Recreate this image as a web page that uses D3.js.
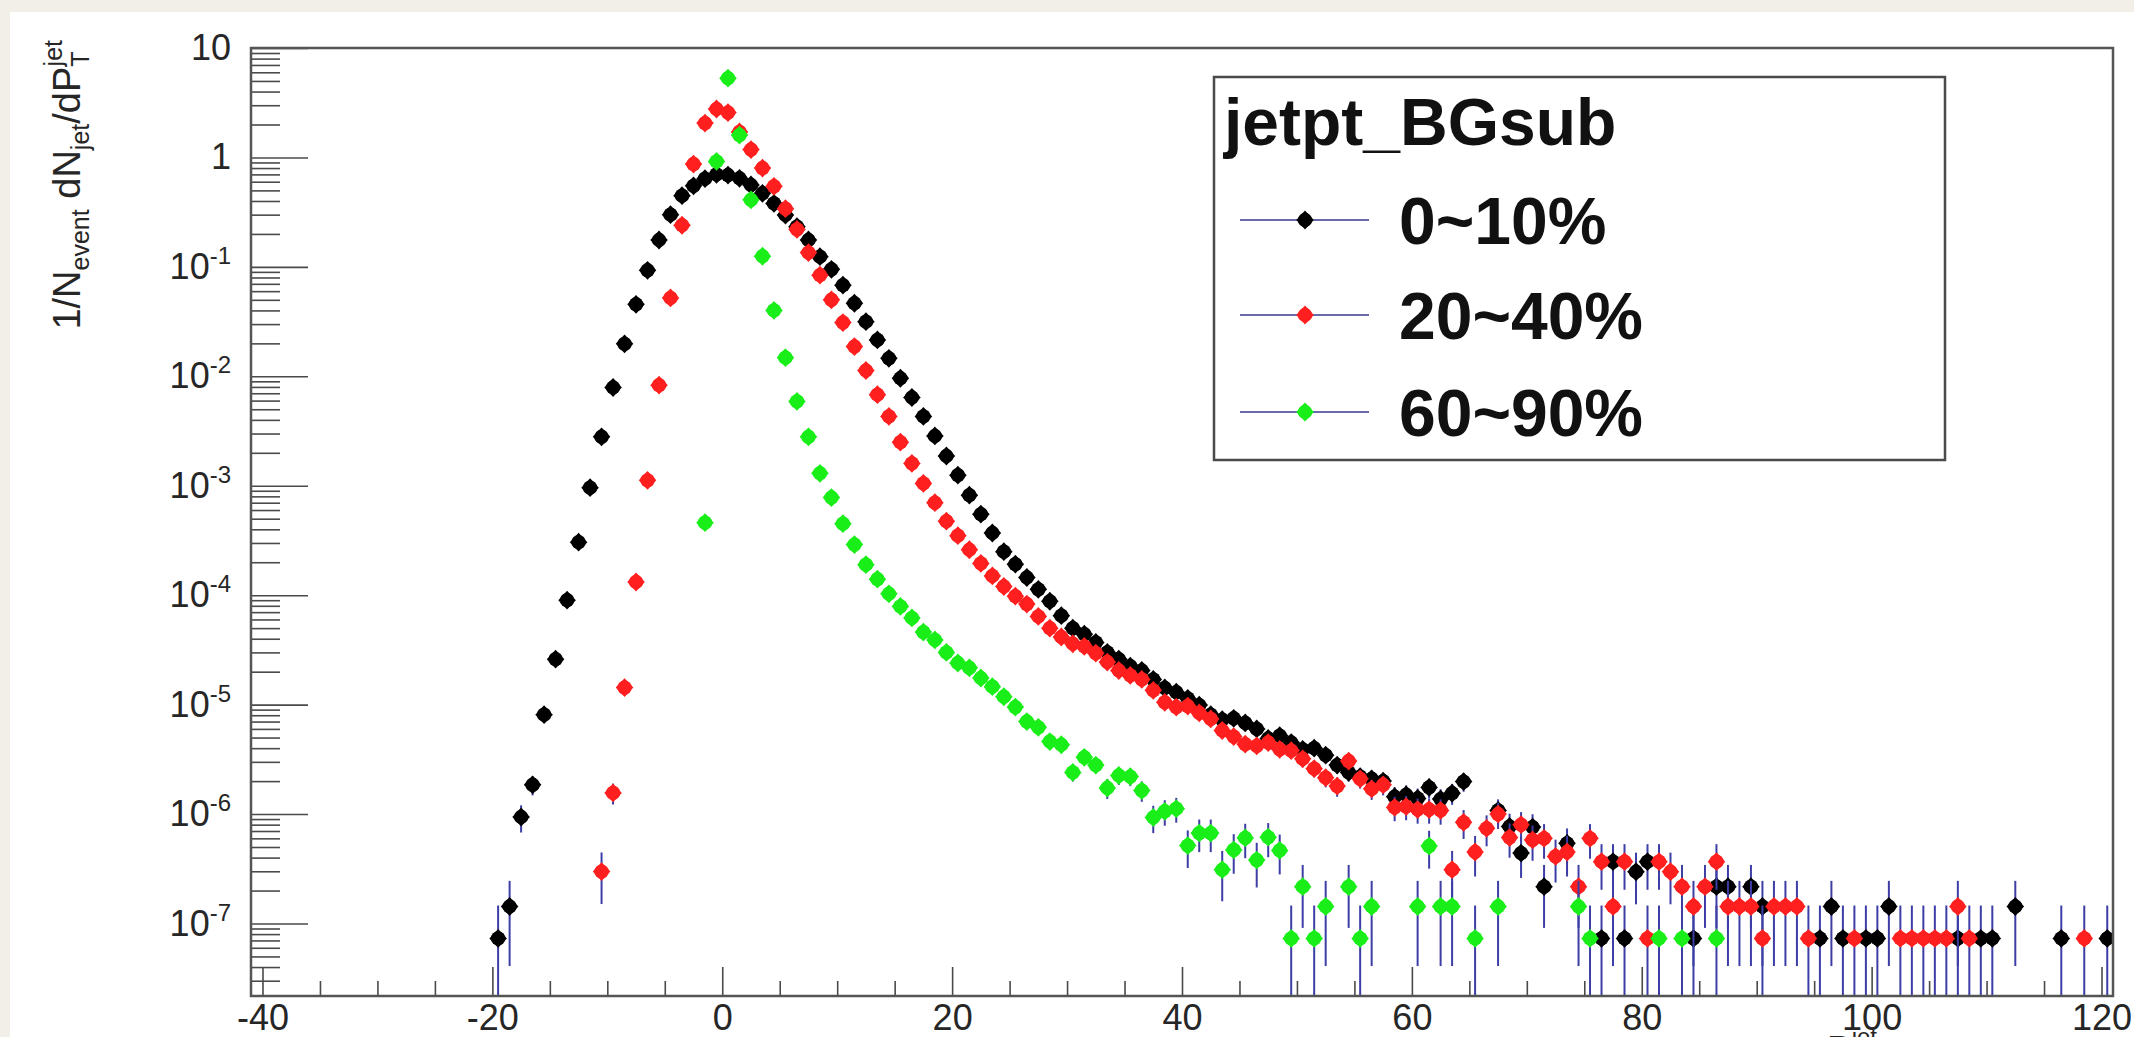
<!DOCTYPE html>
<html>
<head>
<meta charset="utf-8">
<script src="https://cdn.jsdelivr.net/npm/d3@7"></script>
<style>
  html, body { margin: 0; padding: 0; background: #f2efe9; }
  svg { display: block; }
  text { font-family: "Liberation Sans", Arial, Helvetica, sans-serif; }
</style>
</head>
<body>
<svg id="chart" width="2134" height="1037"></svg>
<script>
// ---- axis ranges and ticks ----
const X_RANGE = [-41, 121];
const Y_RANGE = [2.175e-8, 10];
const X_MAJOR_TICKS = [-40, -20, 0, 20, 40, 60, 80, 100, 120];
const Y_DECADES = [1e-7, 1e-6, 1e-5, 1e-4, 1e-3, 1e-2, 1e-1, 1, 10];

// value carried by a single entry (sets the Poisson error bars)
const COUNT_UNIT = 7.3e-8;

// ---- series: one value per 1-unit bin, starting at the given bin centre ----
const SERIES_NAMES = ["0~10%", "20~40%", "60~90%"];
const SERIES_COLORS = ["#000000", "#ff1f1f", "#19ee19"];

const central_0_10_start = -19.5;
const central_0_10 = [
  7.3e-8, 1.43e-7, 9.4e-7, 1.85e-6, 8.1e-6, 2.6e-5, 9.0e-5, 3.05e-4, 9.6e-4, 2.8e-3,
  7.9e-3, 1.98e-2, 4.55e-2, 9.3e-2, 0.176, 0.30, 0.447, 0.55, 0.64, 0.70,
  0.69, 0.645, 0.56, 0.47, 0.38, 0.298, 0.233, 0.176, 0.124, 0.095,
  0.068, 0.0465, 0.0316, 0.0215, 0.0146, 0.0096, 0.0064, 0.0043, 0.00285, 0.00187,
  0.00125, 8.2e-4, 5.5e-4, 3.7e-4, 2.5e-4, 1.92e-4, 1.45e-4, 1.13e-4, 8.8e-5, 6.5e-5,
  5.0e-5, 4.4e-5, 3.7e-5, 3.0e-5, 2.6e-5, 2.25e-5, 2.05e-5, 1.7e-5, 1.42e-5, 1.3e-5,
  1.14e-5, 9.9e-6, 8.1e-6, 7.3e-6, 7.5e-6, 6.8e-6, 6.0e-6, 4.9e-6, 5.2e-6, 4.5e-6,
  3.9e-6, 4.0e-6, 3.45e-6, 2.8e-6, 2.4e-6, 2.2e-6, 2.1e-6, 2.0e-6, 1.44e-6, 1.5e-6,
  1.39e-6, 1.75e-6, 1.37e-6, 1.55e-6, 1.98e-6, null, null, 1.08e-6, 7.7e-7, 4.4e-7,
  7.6e-7, 2.17e-7, null, 5.4e-7, null, null, 7.3e-8, 3.67e-7, 7.3e-8, 2.97e-7,
  3.67e-7, null, null, null, 7.3e-8, null, 2.17e-7, 2.17e-7, null, 2.17e-7,
  1.43e-7, null, null, null, null, 7.3e-8, 1.43e-7, 7.3e-8, null, 7.3e-8,
  7.3e-8, 1.43e-7, null, null, null, null, null, 7.3e-8, null, 7.3e-8,
  7.3e-8, null, 1.43e-7, null, null, null, 7.3e-8, null, null, null,
  7.3e-8
];

const central_20_40_start = -10.5;
const central_20_40 = [
  2.98e-7, 1.56e-6, 1.43e-5, 1.32e-4, 1.12e-3, 8.3e-3, 0.052, 0.24, 0.87, 2.06,
  2.77, 2.57, 1.71, 1.18, 0.80, 0.545, 0.34, 0.22, 0.135, 0.084,
  0.050, 0.031, 0.0187, 0.0113, 0.0068, 0.0043, 0.0025, 0.0016, 1.05e-3, 7.0e-4,
  4.75e-4, 3.5e-4, 2.6e-4, 1.95e-4, 1.5e-4, 1.2e-4, 9.8e-5, 8.3e-5, 6.4e-5, 5.0e-5,
  4.15e-5, 3.6e-5, 3.4e-5, 2.95e-5, 2.45e-5, 2.05e-5, 1.85e-5, 1.7e-5, 1.35e-5, 1.05e-5,
  9.5e-6, 9.7e-6, 8.4e-6, 7.4e-6, 5.8e-6, 5.1e-6, 4.35e-6, 4.2e-6, 4.5e-6, 3.9e-6,
  3.8e-6, 3.2e-6, 2.6e-6, 2.15e-6, 1.8e-6, 3.05e-6, 2.1e-6, 1.7e-6, 1.85e-6, 1.15e-6,
  1.17e-6, 1.1e-6, 1.1e-6, 1.08e-6, 3.1e-7, 8.4e-7, 4.5e-7, 7.4e-7, 1.0e-6, 6.1e-7,
  8.0e-7, 5.8e-7, 6.0e-7, 4.1e-7, 4.5e-7, 2.17e-7, 6.0e-7, 3.67e-7, 1.43e-7, 3.67e-7,
  null, 7.3e-8, 3.67e-7, 2.97e-7, 2.17e-7, 1.43e-7, 2.17e-7, 3.67e-7, 1.43e-7, 1.43e-7,
  1.43e-7, 7.3e-8, 1.43e-7, 1.43e-7, 1.43e-7, 7.3e-8, null, null, null, 7.3e-8,
  null, null, null, 7.3e-8, 7.3e-8, 7.3e-8, 7.3e-8, 7.3e-8, 1.43e-7, 7.3e-8,
  null, null, null, null, null, null, null, null, null, 7.3e-8
];

const peripheral_60_90_start = -1.5;
const peripheral_60_90 = [
  4.6e-4, 0.92, 5.3, 1.6, 0.41, 0.125, 0.040, 0.0148, 5.9e-3, 2.8e-3,
  1.3e-3, 7.8e-4, 4.5e-4, 2.9e-4, 1.9e-4, 1.4e-4, 1.03e-4, 7.9e-5, 6.2e-5, 4.6e-5,
  3.9e-5, 3.0e-5, 2.4e-5, 2.17e-5, 1.75e-5, 1.46e-5, 1.18e-5, 9.5e-6, 7.0e-6, 6.2e-6,
  4.6e-6, 4.3e-6, 2.4e-6, 3.3e-6, 2.8e-6, 1.73e-6, 2.25e-6, 2.2e-6, 1.64e-6, 9.3e-7,
  1.06e-6, 1.12e-6, 5.15e-7, 6.7e-7, 6.7e-7, 3.1e-7, 4.7e-7, 6.05e-7, 3.8e-7, 6.15e-7,
  4.65e-7, 7.3e-8, 2.17e-7, 7.3e-8, 1.43e-7, null, 2.17e-7, 7.3e-8, 1.43e-7, null,
  null, null, 1.43e-7, 5.1e-7, 1.43e-7, 1.43e-7, null, 7.3e-8, null, 1.43e-7,
  null, null, null, null, null, null, 1.43e-7, 7.3e-8, null, null,
  null, null, null, 7.3e-8, null, 7.3e-8, null, null, 7.3e-8
];

const LEGEND_TITLE = "jetpt_BGsub";

// ---- layout ----
const svg = d3.select("#chart");
const W = 2134, H = 1037;
const plot = { left: 251, top: 48, right: 2113, bottom: 996 };

const x = d3.scaleLinear().domain(X_RANGE).range([plot.left, plot.right]);
const y = d3.scaleLog().domain(Y_RANGE).range([plot.bottom, plot.top]);

// white canvas panel
svg.append("rect").attr("x", 10).attr("y", 12).attr("width", W - 10).attr("height", H - 12)
  .attr("fill", "#ffffff");

// filled marker: round body with slightly pointed top/bottom/sides
function marker(sel, cx, cy, color) {
  const g = sel.append("g").attr("transform", `translate(${cx},${cy})`).attr("fill", color);
  g.append("circle").attr("r", 7.2);
  g.append("path").attr("d", "M0,-9.4L8.8,0L0,9.4L-8.8,0Z");
  return g;
}

// ---- data ----
svg.append("clipPath").attr("id", "plotClip").append("rect")
  .attr("x", plot.left).attr("y", plot.top)
  .attr("width", plot.right - plot.left).attr("height", plot.bottom - plot.top);

const series = [
  { name: SERIES_NAMES[0], color: SERIES_COLORS[0], start: central_0_10_start, values: central_0_10 },
  { name: SERIES_NAMES[1], color: SERIES_COLORS[1], start: central_20_40_start, values: central_20_40 },
  { name: SERIES_NAMES[2], color: SERIES_COLORS[2], start: peripheral_60_90_start, values: peripheral_60_90 }
];

const ERR_COLOR = "#3d3da6";

const dataG = svg.append("g").attr("clip-path", "url(#plotClip)");
series.forEach(s => {
  const pts = s.values.map((v, i) => ({ x: s.start + i, v }))
    .filter(p => p.v !== null && p.v > 0);
  const g = dataG.append("g");
  g.selectAll("line").data(pts).join("line")
    .attr("x1", d => x(d.x)).attr("x2", d => x(d.x))
    .attr("y1", d => y(d.v + Math.sqrt(d.v * COUNT_UNIT)))
    .attr("y2", d => {
      const lo = d.v - Math.sqrt(d.v * COUNT_UNIT);
      return lo > Y_RANGE[0] ? y(lo) : plot.bottom;
    })
    .attr("stroke", ERR_COLOR).attr("stroke-width", 2);
  const mg = g.append("g");
  pts.forEach(d => marker(mg, x(d.x), y(d.v), s.color));
});

// ---- axes ----
const axisFont = 36;
const tickColor = "#4a4a4a";

// x axis: labelled major ticks every 20, minor every 5
const xMinor = d3.range(X_MAJOR_TICKS[0], X_MAJOR_TICKS[X_MAJOR_TICKS.length - 1] + 1, 5)
  .filter(v => !X_MAJOR_TICKS.includes(v));
svg.append("g").attr("transform", `translate(0,${plot.bottom})`)
  .call(d3.axisBottom(x).tickValues(X_MAJOR_TICKS).tickFormat(d => String(d))
    .tickSizeInner(-29).tickSizeOuter(0).tickPadding(8));
svg.append("g").attr("transform", `translate(0,${plot.bottom})`)
  .call(d3.axisBottom(x).tickValues(xMinor).tickFormat("").tickSizeInner(-15).tickSizeOuter(0))
  .call(g => g.select(".domain").remove());

// y axis: decades with 10^k labels, minor ticks at 2..9
const yMinor = [];
Y_DECADES.forEach(d => {
  for (let m = 2; m <= 9; m++) {
    const v = d * m / 10;
    if (v >= Y_RANGE[0] && v <= Y_RANGE[1]) yMinor.push(v);
  }
});
const yAxisG = svg.append("g").attr("transform", `translate(${plot.left},0)`)
  .call(d3.axisLeft(y).tickValues(Y_DECADES).tickSizeInner(-57).tickSizeOuter(0).tickPadding(20));
svg.append("g").attr("transform", `translate(${plot.left},0)`)
  .call(d3.axisLeft(y).tickValues(yMinor).tickFormat("").tickSizeInner(-29).tickSizeOuter(0))
  .call(g => g.select(".domain").remove());

yAxisG.selectAll(".tick text").each(function (d) {
  const k = Math.round(Math.log10(d));
  const t = d3.select(this).text(null);
  if (k === 0) t.text("1");
  else if (k === 1) t.text("10");
  else {
    t.append("tspan").text("10");
    t.append("tspan").attr("font-size", 24).attr("dy", "-0.62em").text(String(k));
  }
});

svg.selectAll(".tick line").attr("stroke", tickColor).attr("stroke-width", 1.6);
svg.selectAll(".tick text").attr("font-size", axisFont).attr("fill", "#262626")
  .attr("font-family", "'Liberation Sans', Arial, sans-serif");
svg.selectAll(".domain").remove();

// frame
svg.append("rect").attr("x", plot.left).attr("y", plot.top)
  .attr("width", plot.right - plot.left).attr("height", plot.bottom - plot.top)
  .attr("fill", "none").attr("stroke", "#555").attr("stroke-width", 2.5);

// y axis title: 1/N_event dN_jet/dP_T^jet
const yt = svg.append("text")
  .attr("transform", "translate(80,40) rotate(-90)")
  .attr("text-anchor", "end").attr("font-size", 38).attr("fill", "#262626");
yt.append("tspan").text("1/N");
yt.append("tspan").attr("font-size", 25).attr("dy", 9).text("event");
yt.append("tspan").attr("dy", -9).text(" dN");
yt.append("tspan").attr("font-size", 25).attr("dy", 9).text("jet");
yt.append("tspan").attr("dy", -9).text("/dP");
yt.append("tspan").attr("font-size", 25).attr("dy", 9).text("T");
yt.append("tspan").attr("font-size", 25).attr("dx", -15).attr("dy", -27).text("jet");

// x axis title, sitting below the visible canvas edge
const xt = svg.append("text").attr("x", 1852).attr("y", 1062)
  .attr("text-anchor", "middle").attr("font-size", 36).attr("fill", "#262626");
xt.append("tspan").text("P");
xt.append("tspan").attr("font-size", 24).attr("dy", 9).text("T");
xt.append("tspan").attr("font-size", 24).attr("dx", -14).attr("dy", -26).text("jet");

// ---- legend ----
const leg = { left: 1214, top: 77, right: 1945, bottom: 460 };
svg.append("rect").attr("x", leg.left).attr("y", leg.top)
  .attr("width", leg.right - leg.left).attr("height", leg.bottom - leg.top)
  .attr("fill", "#ffffff").attr("stroke", "#4a4a4a").attr("stroke-width", 2.5);
svg.append("text").attr("x", 1224).attr("y", 145)
  .attr("font-size", 66).attr("font-weight", "bold").attr("fill", "#111").text(LEGEND_TITLE);

const entryY = [220, 315, 412];
series.forEach((s, i) => {
  svg.append("line").attr("x1", 1240).attr("x2", 1369).attr("y1", entryY[i]).attr("y2", entryY[i])
    .attr("stroke", "#6a6aa8").attr("stroke-width", 2);
  marker(svg, 1305, entryY[i], s.color);
  svg.append("text").attr("x", 1399).attr("y", entryY[i] + 24)
    .attr("font-size", 66).attr("font-weight", "bold").attr("fill", "#111").text(s.name);
});
</script>
</body>
</html>
